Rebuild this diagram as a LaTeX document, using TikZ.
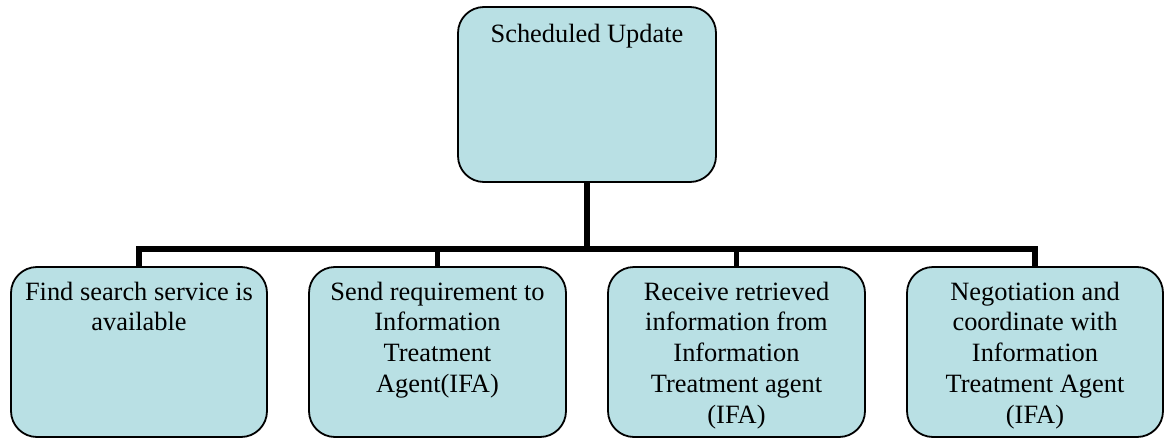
\documentclass[tikz,border=0pt]{standalone}
\usepackage{fontspec}
\setmainfont{Liberation Serif}
\begin{document}
\begin{tikzpicture}[x=1pt,y=-1pt,
  box/.style={draw=black,line width=1.8pt,fill=boxfill,rounded corners=26pt,inner sep=0pt},
  boxtext/.style={anchor=north,align=center,inner sep=0pt,font=\fontsize{26.4}{30.8}\selectfont},
  bus/.style={draw=black,line width=5.5pt,line join=miter}]
\definecolor{boxfill}{HTML}{B9E0E4}
\useasboundingbox (0,0) rectangle (1165,439);

% boxes
\node[box,minimum width=258pt,minimum height=175pt] (top) at (587,94.5) {};
\node[box,minimum width=256pt,minimum height=170pt] (b1) at (139,352) {};
\node[box,minimum width=257pt,minimum height=170pt] (b2) at (437.5,352) {};
\node[box,minimum width=257pt,minimum height=170pt] (b3) at (736.5,352) {};
\node[box,minimum width=256pt,minimum height=170pt] (b4) at (1035,352) {};

% labels, set from the top of each box
\node[boxtext] (ttop) at ([yshift=-18pt]top.north) {Scheduled Update};
\node[boxtext] (t1) at ([yshift=-15.5pt]b1.north) {Find search service is\\available};
\node[boxtext] (t2) at ([yshift=-15.5pt]b2.north) {Send requirement to\\Information\\Treatment\\Agent(IFA)};
\node[boxtext] (t3) at ([yshift=-15.5pt]b3.north) {Receive retrieved\\information from\\Information\\Treatment agent\\(IFA)};
\node[boxtext] (t4) at ([yshift=-15.5pt]b4.north) {Negotiation and\\coordinate with\\Information\\Treatment Agent\\(IFA)};

% connectors
\coordinate (bus) at (587,249);
\draw[bus] (top.south) -- (bus);
\draw[bus] (b1.north) |- (b4.north |- bus) -- (b4.north);
\draw[bus] (b2.north) -- (b2.north |- bus);
\draw[bus] (b3.north) -- (b3.north |- bus);
\end{tikzpicture}
\end{document}
